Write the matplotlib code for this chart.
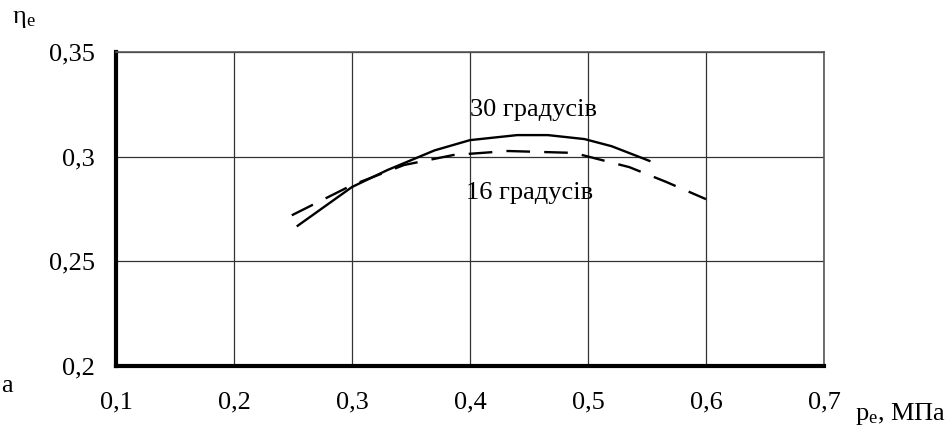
import matplotlib.pyplot as plt

plt.rcParams['font.family'] = ['Liberation Serif', 'DejaVu Serif']
plt.rcParams['mathtext.fontset'] = 'custom'
plt.rcParams['mathtext.rm'] = 'Liberation Serif'
plt.rcParams['mathtext.it'] = 'Liberation Serif:italic'

# 30 градусів (суцільна)
p30 = [0.254, 0.30, 0.33, 0.37, 0.40, 0.44, 0.466, 0.497, 0.52, 0.552]
eta30 = [0.267, 0.2855, 0.2936, 0.303, 0.3079, 0.3103, 0.3103, 0.3084, 0.305, 0.298]

# 16 градусів (штрихова)
p16 = [0.249, 0.30, 0.344, 0.386, 0.432, 0.488, 0.535, 0.566, 0.60]
eta16 = [0.272, 0.2864, 0.296, 0.3008, 0.3027, 0.3018, 0.295, 0.288, 0.2797]

xticks = [0.1, 0.2, 0.3, 0.4, 0.5, 0.6, 0.7]
yticks = [0.2, 0.25, 0.3, 0.35]
xlabels = ['0,1', '0,2', '0,3', '0,4', '0,5', '0,6', '0,7']
ylabels = ['0,2', '0,25', '0,3', '0,35']

fig = plt.figure(figsize=(9.49, 4.30), dpi=100)
ax = fig.add_axes([0.1222, 0.1488, 0.7461, 0.7303])

ax.plot(p30, eta30, color='black', linewidth=1.7)
ax.plot(p16, eta16, color='black', linewidth=1.7, dashes=(10, 6))

ax.set_xlim(0.1, 0.7)
ax.set_ylim(0.2, 0.35)
ax.set_xticks(xticks)
ax.set_xticklabels(xlabels)
ax.set_yticks(yticks)
ax.set_yticklabels(ylabels)
ax.tick_params(length=0, labelsize=19)
ax.tick_params(axis='x', pad=18)
ax.tick_params(axis='y', pad=15)
ax.grid(True, color='#333333', linewidth=0.9)

ax.spines['left'].set_linewidth(3)
ax.spines['bottom'].set_linewidth(3)
ax.spines['top'].set_linewidth(1.2)
ax.spines['right'].set_linewidth(1.2)
ax.spines['top'].set_color('#555555')
ax.spines['right'].set_color('#555555')

ax.text(0.454, 0.3223, '30 градусів', fontsize=19, ha='center', va='center')
ax.text(0.4507, 0.2826, '16 градусів', fontsize=19, ha='center', va='center')

fig.text(12 / 949, 1 - 19 / 430, r'$\mathrm{\eta_e}$', fontsize=19, va='center')
fig.text(855 / 949, 1 - 414 / 430, r'$\mathrm{p_e}$, МПа', fontsize=19, va='center')
fig.text(1 / 949, 1 - 386 / 430, 'а', fontsize=19, va='center')

plt.savefig('out.png', dpi=100)
plt.close()
